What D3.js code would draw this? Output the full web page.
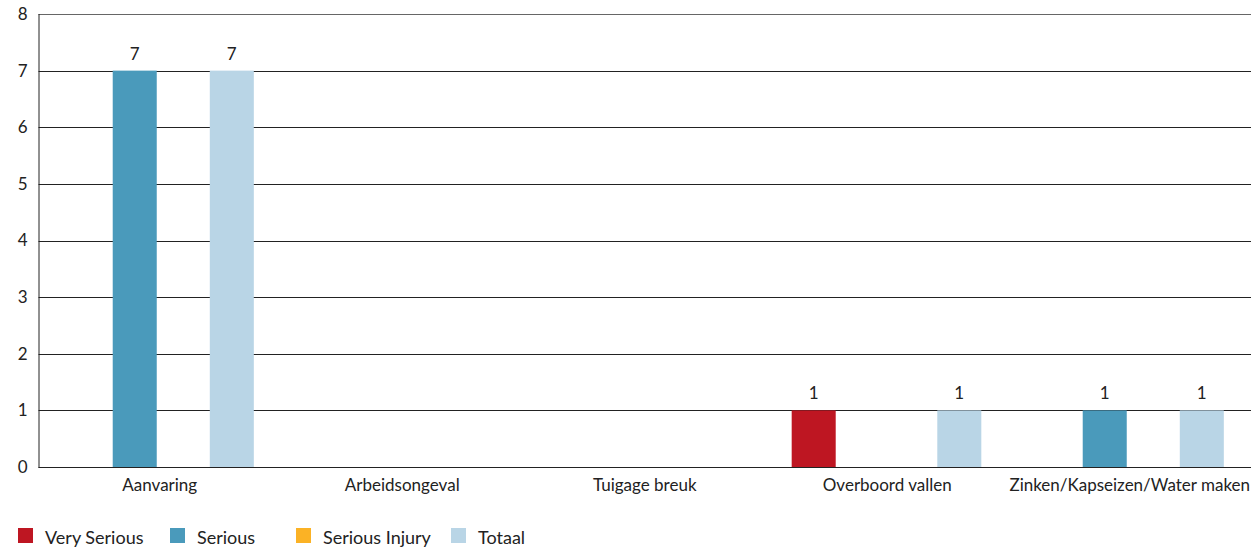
<!DOCTYPE html>
<html>
<head>
<meta charset="utf-8">
<script src="https://cdn.jsdelivr.net/npm/d3@7"></script>
<style>
  body { margin: 0; background: #fff; }
  svg text { font-family: Lato, "Open Sans", sans-serif; fill: #222; }
</style>
</head>
<body>
<svg width="1251" height="547"></svg>
<script>
const categories = ["Aanvaring", "Arbeidsongeval", "Tuigage breuk", "Overboord vallen", "Zinken/Kapseizen/Water maken"];
const seriesNames = ["Very Serious", "Serious", "Serious Injury", "Totaal"];
const verySerious = [0, 0, 0, 1, 0];
const serious = [7, 0, 0, 0, 1];
const seriousInjury = [0, 0, 0, 0, 0];
const totaal = [7, 0, 0, 1, 1];
const yTicks = [0, 1, 2, 3, 4, 5, 6, 7, 8];
const colors = ["#be1622", "#4a9abb", "#fbb225", "#b9d5e6"];

const values = [verySerious, serious, seriousInjury, totaal];

const width = 1251;
const height = 547;
const margin = { top: 14, right: 0, bottom: 80, left: 38.5 };

const svg = d3.select("svg");

const x0 = d3.scaleBand()
    .domain(categories)
    .range([margin.left, width - margin.right])
    .paddingInner(0)
    .paddingOuter(0);

const x1 = d3.scaleBand()
    .domain(seriesNames)
    .range([23.5, x0.bandwidth() - 25])
    .paddingInner(0.093)
    .paddingOuter(0.045);

const y = d3.scaleLinear()
    .domain([0, 8])
    .range([height - margin.bottom, margin.top]);

// grid lines
svg.append("g")
    .selectAll("line")
    .data(yTicks)
    .enter().append("line")
    .attr("x1", margin.left)
    .attr("x2", width - margin.right)
    .attr("y1", d => Math.round(y(d)) + 0.5)
    .attr("y2", d => Math.round(y(d)) + 0.5)
    .attr("stroke", d => d === 8 ? "#666" : "#222")
    .attr("stroke-width", 1);

// bars
const data = [];
categories.forEach((c, i) => {
    seriesNames.forEach((s, j) => {
        data.push({ cat: c, key: s, value: values[j][i], color: colors[j] });
    });
});
const shown = data.filter(d => d.value > 0);

svg.append("g")
    .selectAll("rect")
    .data(shown)
    .enter().append("rect")
    .attr("x", d => x0(d.cat) + x1(d.key))
    .attr("y", d => y(d.value))
    .attr("width", x1.bandwidth())
    .attr("height", d => y(0) - y(d.value))
    .attr("fill", d => d.color);

// redraw baseline on top
svg.append("line")
    .attr("x1", margin.left).attr("x2", width)
    .attr("y1", Math.round(y(0)) + 0.5).attr("y2", Math.round(y(0)) + 0.5)
    .attr("stroke", "#222");

// value labels
svg.append("g")
    .selectAll("text")
    .data(shown)
    .enter().append("text")
    .attr("x", d => x0(d.cat) + x1(d.key) + x1.bandwidth() / 2)
    .attr("y", d => y(d.value) - 11)
    .attr("text-anchor", "middle")
    .attr("font-size", 17)
    .text(d => d.value);

// y axis
const yAxis = svg.append("g")
    .attr("transform", `translate(${margin.left},0)`)
    .call(d3.axisLeft(y).tickValues(yTicks).tickSize(0).tickPadding(11));
yAxis.select(".domain").attr("stroke", "#222").attr("d", `M0.5,${y(8)}V${y(0)}`);
yAxis.selectAll("text").attr("font-size", 17).attr("font-family", "Lato, sans-serif").attr("fill", "#222");

// x axis labels
const xAxis = svg.append("g")
    .attr("transform", `translate(0,${y(0)})`)
    .call(d3.axisBottom(x0).tickSize(0).tickPadding(12));
xAxis.select(".domain").remove();
xAxis.selectAll("text").attr("font-size", 17).attr("font-family", "Lato, sans-serif").attr("fill", "#222");

// legend
const legendX = [18, 170, 296, 451];
const legend = svg.append("g")
    .selectAll("g")
    .data(seriesNames)
    .enter().append("g")
    .attr("transform", (d, i) => `translate(${legendX[i]},528)`);
legend.append("rect")
    .attr("width", 15).attr("height", 15)
    .attr("fill", (d, i) => colors[i]);
legend.append("text")
    .attr("x", 27).attr("y", 16)
    .attr("font-size", 18)
    .text(d => d);
</script>
</body>
</html>
